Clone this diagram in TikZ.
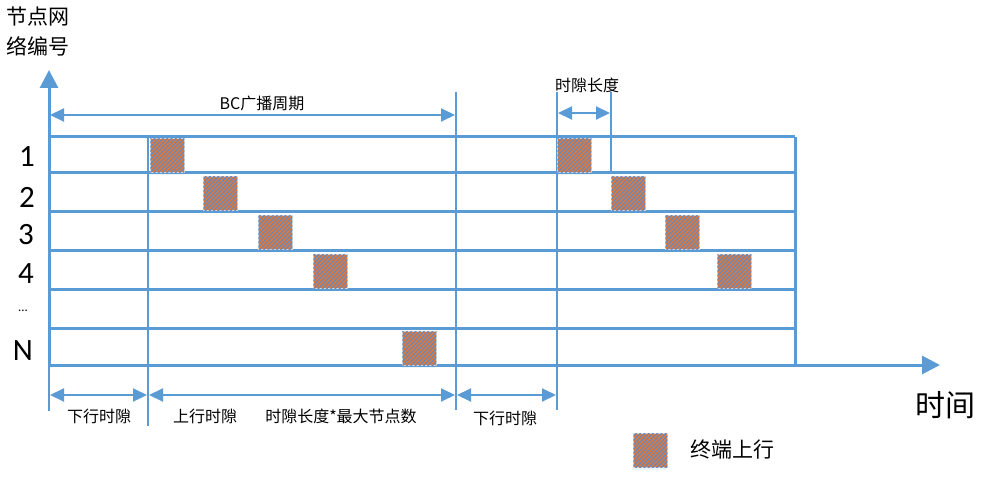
\documentclass[tikz,border=0pt]{standalone}
\usepackage{fontspec}
\setmainfont{Carlito}
\newfontfamily\cjk{Noto Sans CJK SC}
\usetikzlibrary{arrows.meta,patterns.meta,shadows}
\definecolor{axisblue}{HTML}{5B9BD5}
\definecolor{sqorange}{HTML}{E0783A}
\definecolor{sqhatch}{HTML}{6A88B8}
\tikzset{
  grid/.style={axisblue, line width=3pt},
  thin/.style={axisblue, line width=1.5pt},
  dim/.style={axisblue, line width=2pt, {Triangle[length=14pt,width=13pt]}-{Triangle[length=14pt,width=13pt]}},
  axis/.style={axisblue, line width=3pt, -{Triangle[length=18pt,width=18pt]}},
  sq/.style={draw=gray!30, line width=0.8pt, fill=sqorange, minimum size=34pt, inner sep=0pt, anchor=north west,
    drop shadow={shadow xshift=0pt, shadow yshift=-3pt, opacity=0.10, fill=axisblue},
    postaction={pattern={Lines[angle=45,distance=3pt,line width=1.3pt]}, pattern color=sqhatch}},
  lbl/.style={font=\cjk\fontsize{16pt}{18pt}\selectfont, inner sep=0pt},
  num/.style={font=\fontsize{31pt}{33pt}\selectfont, inner sep=0pt},
}
\begin{document}
\begin{tikzpicture}[x=1pt,y=-1pt]
\useasboundingbox (0,0) rectangle (989,484);
% axes
\coordinate (o) at (49,365);
\coordinate (ytip) at (49,70);
\coordinate (xtip) at (940,365);
\coordinate (ybot) at (49,367);
\draw[axis] (ybot) -- (ytip);
\draw[axis] (o) -- (xtip);
% grid rows
\foreach \n/\y in {r1/137,r2/173,r3/212,r4/251,r5/289,r6/328}{
  \coordinate (\n a) at (49,\y);
  \coordinate (\n b) at (795,\y);
  \draw[grid] (\n a) -- (\n b);
}
\coordinate (rv1) at (795,137);
\coordinate (rv2) at (795,365);
\draw[grid] (rv1) -- (rv2);
% thin verticals
\coordinate (v0a) at (49,365); \coordinate (v0b) at (49,411);
\coordinate (v1a) at (148,137); \coordinate (v1b) at (148,426);
\coordinate (v2a) at (456,92); \coordinate (v2b) at (456,410);
\coordinate (v3a) at (557,92); \coordinate (v3b) at (557,410);
\coordinate (v4a) at (611,92); \coordinate (v4b) at (611,173);
\draw[thin] (v0a) -- (v0b);
\draw[thin] (v1a) -- (v1b);
\draw[thin] (v2a) -- (v2b);
\draw[thin] (v3a) -- (v3b);
\draw[thin] (v4a) -- (v4b);
% dimension arrows
\coordinate (bc1) at (50,115); \coordinate (bc2) at (455,115);
\draw[dim] (bc1) -- (bc2);
\coordinate (ts1) at (558,113); \coordinate (ts2) at (610,113);
\draw[dim] (ts1) -- (ts2);
\coordinate (d1) at (50,395); \coordinate (d2) at (147,395);
\coordinate (d3) at (149,395); \coordinate (d4) at (455,395);
\coordinate (d5) at (457,395); \coordinate (d6) at (556,395);
\draw[dim] (d1) -- (d2);
\draw[dim] (d3) -- (d4);
\draw[dim] (d5) -- (d6);
% squares
\node[sq] (s1) at (150,138) {};
\node[sq] (s2) at (203,176) {};
\node[sq] (s3) at (258,215) {};
\node[sq] (s4) at (313,254) {};
\node[sq] (sN) at (402,331) {};
\node[sq] (t1) at (557,138) {};
\node[sq] (t2) at (611,176) {};
\node[sq] (t3) at (665,215) {};
\node[sq] (t4) at (717,254) {};
\node[sq] (leg) at (633,433) {};
% labels
\node[font=\cjk\fontsize{21pt}{23pt}\selectfont, inner sep=0pt] (yl1) at (38,17) {节点网};
\node[font=\cjk\fontsize{21pt}{23pt}\selectfont, inner sep=0pt] (yl2) at (38,46) {络编号};
\node[num] (n1) at (27,157) {1};
\node[num] (n2) at (27,197) {2};
\node[num] (n3) at (26,235) {3};
\node[num] (n4) at (26,274) {4};
\node[font=\fontsize{13pt}{15pt}\selectfont, inner sep=0pt] (ndots) at (23,311) {...};
\node[num] (nN) at (23,351) {N};
\node[lbl] (bcl) at (262,103) {BC广播周期};
\node[lbl] (tsl) at (587,85) {时隙长度};
\node[lbl] (dl1) at (99,416) {下行时隙};
\node[lbl] (ul) at (205,416) {上行时隙};
\node[lbl] (ml) at (341,416) {时隙长度*最大节点数};
\node[lbl] (dl2) at (505,418) {下行时隙};
\node[font=\cjk\fontsize{30pt}{32pt}\selectfont, inner sep=0pt] (tl) at (945,405) {时间};
\node[font=\cjk\fontsize{21pt}{23pt}\selectfont, inner sep=0pt, anchor=west] (legl) at (690,450) {终端上行};
\end{tikzpicture}
\end{document}
